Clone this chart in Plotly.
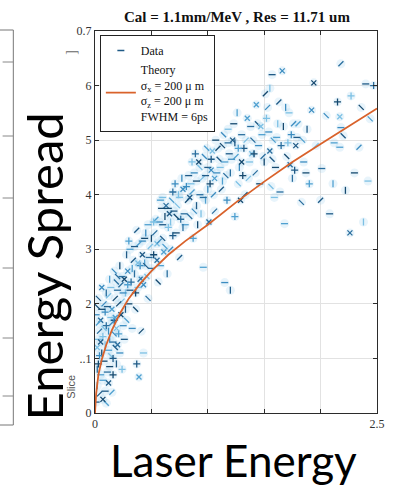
import plotly.graph_objects as go

# ---------------- data ----------------
data_x = [
    0.01,0.02,0.03,0.02,0.04,0.01,0.03,0.05,0.06,0.07,0.05,0.08,0.09,0.10,0.08,0.09,0.10,0.06,0.04,0.07,0.02,0.03,0.10,0.09,
    0.12,0.15,0.13,0.14,0.16,0.12,0.17,0.15,0.18,0.14,0.20,0.22,0.19,0.21,0.23,0.24,0.20,0.17,0.11,0.13,0.16,0.19,0.23,0.25,0.18,0.12,0.22,0.24,0.20,0.15,
    0.26,0.28,0.30,0.27,0.32,0.29,0.34,0.31,0.36,0.38,0.35,0.40,0.42,0.39,0.44,0.46,0.48,0.45,0.37,0.39,0.41,0.43,0.47,0.33,0.28,0.30,0.26,0.49,0.50,0.41,0.35,0.44,
    0.52,0.55,0.53,0.57,0.60,0.58,0.62,0.65,0.63,0.67,0.70,0.68,0.72,0.74,0.76,0.78,0.75,0.80,0.56,0.60,0.64,0.71,0.66,0.54,0.59,0.73,0.79,0.77,0.69,0.61,
    0.82,0.85,0.84,0.88,0.90,0.87,0.92,0.95,0.93,0.97,1.00,0.98,1.02,1.04,1.06,1.08,1.10,0.96,0.91,0.86,1.01,1.05,0.83,0.99,1.07,0.94,0.89,1.03,
    1.12,1.15,1.13,1.18,1.20,1.17,1.22,1.25,1.23,1.27,1.30,1.28,1.32,1.35,1.33,1.37,1.40,1.15,1.20,1.24,1.29,1.36,1.38,1.14,1.19,1.26,1.31,1.39,
    1.42,1.45,1.44,1.48,1.50,1.52,1.55,1.53,1.57,1.58,1.60,1.62,1.65,1.66,1.63,1.68,1.70,1.72,1.75,1.74,1.78,1.80,1.46,1.56,1.64,1.69,1.77,1.43,1.51,1.59,
    1.83,1.85,1.88,1.90,1.94,1.96,2.01,2.05,2.08,2.11,2.15,2.17,2.18,2.18,2.20,2.17,2.22,2.27,2.26,2.34,2.40,2.44,2.30,2.38,2.47,1.92,2.00,2.12,2.36,2.42,
    0.02,0.04,0.05,0.03,0.06,0.08,0.11,0.13,0.16,0.18,0.21,0.14,0.19,0.25,0.27,0.29,0.07,0.12,0.24,0.17,
    0.31,0.33,0.36,0.38,0.40,0.42,0.45,0.47,0.50,0.52,0.55,0.57,0.60,0.62,0.65,0.67,0.69,0.43,0.37,0.58,
    0.72,0.75,0.78,0.81,0.84,0.86,0.90,0.93,0.96,1.00,1.03,1.06,1.09,1.11,1.16,1.21,1.24,1.27,1.30,1.34,1.18,0.88,0.98,1.13,
    1.41,1.47,1.49,1.54,1.57,1.61,1.67,1.71,1.73,1.76,1.79,1.84,1.87,1.55,
]
data_y = [
    0.20,0.50,0.90,1.20,1.50,1.80,2.10,0.70,1.10,1.40,1.70,2.00,0.40,0.18,0.95,1.25,1.60,2.30,0.35,0.60,1.95,1.35,2.20,1.85,
    0.55,0.38,0.85,1.05,1.30,1.50,1.70,1.90,2.10,2.30,2.50,1.10,0.90,1.45,1.80,2.05,2.25,2.60,1.95,2.45,0.70,1.55,2.35,1.60,1.20,1.15,2.70,0.80,1.25,1.65,
    1.35,1.70,2.00,2.20,2.40,2.60,2.80,3.00,1.90,2.30,2.55,2.70,2.90,3.10,3.20,2.50,2.85,3.30,0.90,0.66,1.50,1.10,2.10,1.55,2.90,3.15,2.45,3.05,2.65,2.45,3.05,2.75,
    2.90,3.10,3.30,3.50,3.20,2.70,3.60,3.40,3.80,3.00,3.70,3.90,3.30,4.00,3.55,4.10,2.85,3.45,2.40,3.95,2.55,4.20,3.65,3.55,3.75,3.80,3.65,4.30,3.25,2.95,
    3.90,4.20,3.60,4.40,3.80,3.20,4.60,4.30,4.00,4.70,4.50,3.90,4.20,4.80,3.70,4.40,4.65,2.67,3.45,4.60,3.50,4.00,4.35,4.85,5.00,3.65,4.75,4.45,
    4.10,4.60,4.90,5.20,4.40,3.90,5.00,4.70,5.30,4.20,5.10,4.50,4.85,5.40,4.00,4.60,5.00,2.39,2.25,3.60,3.90,4.30,5.25,5.10,4.75,5.50,4.35,4.75,
    4.40,4.90,5.30,5.10,4.60,5.40,4.80,5.60,6.20,5.00,4.50,5.30,4.90,6.27,5.70,3.47,4.70,5.50,4.30,5.10,4.90,5.30,4.20,4.15,4.05,5.60,4.45,5.65,5.85,3.95,
    3.86,4.60,5.20,4.20,6.05,4.90,4.48,5.45,3.65,4.20,5.70,5.43,6.40,5.23,5.08,4.87,4.08,5.81,3.30,4.87,6.03,5.39,4.40,3.50,6.00,5.55,3.90,4.95,5.60,4.25,
    0.80,1.05,1.30,1.65,1.90,1.55,0.75,1.35,1.00,1.75,2.00,1.75,2.40,2.20,1.90,2.35,0.25,2.15,2.50,1.45,
    2.25,2.65,2.20,2.75,2.45,3.15,2.70,3.45,3.20,3.50,2.80,3.15,3.45,3.05,3.75,3.50,4.05,2.35,3.35,3.90,
    3.60,3.95,3.40,4.15,3.95,4.05,4.25,4.50,3.95,4.10,4.65,4.30,4.85,4.50,4.35,4.65,4.95,4.85,4.60,5.00,4.95,3.70,4.35,4.25,
    4.75,5.25,4.70,5.15,4.65,5.05,5.25,4.95,4.55,5.30,5.05,5.00,4.40,5.95,
]

theory_x = [0.0, 0.01, 0.03, 0.06, 0.10, 0.15, 0.22, 0.30, 0.40, 0.50, 0.65, 0.80, 1.00, 1.25, 1.50, 1.75, 2.00, 2.25, 2.50]
theory_y = [0.0, 0.35, 0.70, 0.98, 1.25, 1.52, 1.82, 2.10, 2.37, 2.60, 2.90, 3.15, 3.45, 3.86, 4.24, 4.60, 4.93, 5.26, 5.58]

x_tick_vals = [0, 0.5, 1.0, 1.5, 2.0, 2.5]
x_tick_text = ["0", "", "", "", "", "2.5"]
y_tick_vals = [0, 1, 2, 3, 4, 5, 6, 7]
y_tick_text = ["0", "..1", "2", "3", "4", "5", "6", "0.7"]

title_text = "Cal = 1.1mm/MeV , Res = 11.71 um"
legend_data = "Data"
legend_theory = "Theory<br>σ<sub>x</sub> = 200 μ m<br>σ<sub>z</sub> = 200 μ m<br>FWHM = 6ps"

# ---------------- styling ----------------
W, H = 396, 486
L, R, T, B = 95, 11, 31, 73
pw, ph = W - L - R, H - T - B

def px(xp):
    return (xp - L) / pw

def py(yp):
    return (H - B - yp) / ph

symbols_cycle = ["line-ew", "line-ns", "cross-thin", "x-thin", "line-ne", "line-ew", "line-nw"]
colors_cycle = ["#1f5a86", "#3b8cc0", "#2a6e9e", "#7cc0e4", "#15496f", "#4fa0d0"]
sym = [symbols_cycle[i % len(symbols_cycle)] for i in range(len(data_x))]
col = [colors_cycle[(i * 5) % len(colors_cycle)] for i in range(len(data_x))]

serif = "Liberation Serif, Times New Roman, serif"

fig = go.Figure()

# haze around points
fig.add_trace(go.Scatter(
    x=data_x, y=data_y, mode="markers", showlegend=False, hoverinfo="skip",
    marker=dict(symbol="circle", size=9, color="rgba(140,200,235,0.20)", line=dict(width=0)),
))
fig.add_trace(go.Scatter(
    x=data_x, y=data_y, mode="markers", name=legend_data,
    marker=dict(symbol=sym, size=5, color=col, line=dict(width=1.3, color=col)),
))
fig.add_trace(go.Scatter(
    x=theory_x, y=theory_y, mode="lines", name=legend_theory,
    line=dict(color="#d9622b", width=1.8),
))

axis_common = dict(
    showline=True, linecolor="#2b2b2b", linewidth=1, mirror="ticks",
    ticks="inside", ticklen=4, tickcolor="#2b2b2b", tickwidth=1,
    showgrid=True, gridcolor="#e2e2e2", gridwidth=1, zeroline=False,
    tickfont=dict(family=serif, size=12, color="#333333"),
)

fig.update_layout(
    width=W, height=H,
    margin=dict(l=L, r=R, t=T, b=B),
    paper_bgcolor="white", plot_bgcolor="white",
    title=dict(text="<b>" + title_text + "</b>", x=px(241), xref="paper", xanchor="center",
               y=1 - 17 / H, yref="container", yanchor="middle",
               font=dict(family=serif, size=15, color="#111111")),
    xaxis=dict(range=[0, 2.5], tickvals=x_tick_vals, ticktext=x_tick_text, **axis_common),
    yaxis=dict(range=[0, 7], tickvals=y_tick_vals, ticktext=y_tick_text, **axis_common),
    legend=dict(x=px(100), y=py(35), xanchor="left", yanchor="top",
                bgcolor="white", bordercolor="#222222", borderwidth=1,
                font=dict(family=serif, size=12, color="#111111"),
                tracegroupgap=0, itemwidth=30),
    showlegend=True,
)

shapes = []
# remnant of neighbouring panel on the far left
shapes.append(dict(type="rect", xref="paper", yref="paper", x0=px(-5), x1=px(11), y0=py(425), y1=py(30),
                   line=dict(color="#777777", width=1), fillcolor="rgba(0,0,0,0)"))
for yy in [62, 136, 198, 268, 338, 396]:
    shapes.append(dict(type="line", xref="paper", yref="paper", x0=px(0), x1=px(11), y0=py(yy), y1=py(yy),
                       line=dict(color="#888888", width=1)))
fig.update_layout(shapes=shapes)

fig.add_annotation(text="Energy Spread", x=px(43), y=py(266), xref="paper", yref="paper", textangle=-90,
                   xanchor="center", yanchor="middle", borderpad=0,
                   showarrow=False,
                   font=dict(family="Lato, Open Sans, sans-serif", size=49, color="#000000"))
fig.add_annotation(text="Laser Energy", x=px(237), y=py(460), xref="paper", yref="paper",
                   xanchor="center", yanchor="middle", borderpad=0,
                   showarrow=False, bgcolor="white",
                   font=dict(family="Lato, Open Sans, sans-serif", size=44, color="#000000"))
fig.add_annotation(text="Slice", x=px(70), y=py(387), xref="paper", yref="paper", textangle=-90,
                   xanchor="center", yanchor="middle",
                   showarrow=False, font=dict(family="Liberation Sans, Arial", size=11, color="#555555"))
fig.add_annotation(text="]", x=px(70), y=py(52), xref="paper", yref="paper", textangle=-90,
                   xanchor="center", yanchor="middle",
                   showarrow=False, font=dict(family=serif, size=14, color="#666666"))

fig.write_html("out.html")
